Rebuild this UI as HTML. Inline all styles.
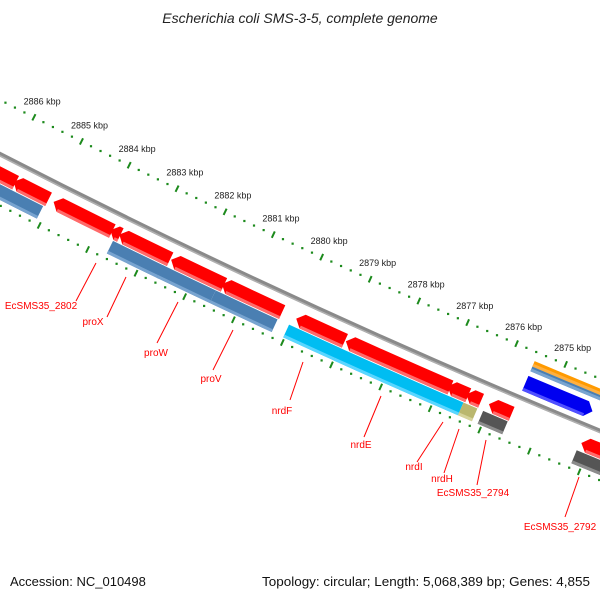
<!DOCTYPE html>
<html><head><meta charset="utf-8"><style>
html,body{margin:0;padding:0;background:#fff;}
svg{display:block;font-family:"Liberation Sans",sans-serif;}
</style></head><body>
<svg id="map" width="600" height="600" viewBox="0 0 600 600">
<rect width="600" height="600" fill="#fff"/>
<text x="300" y="23" text-anchor="middle" font-size="14" font-style="italic" fill="#222">Escherichia coli SMS-3-5, complete genome</text>
<g id="rings"></g>
<g id="tracks"></g>
<g id="labels" font-size="10" fill="#f00">
<line x1="96" y1="263" x2="76" y2="301" stroke="#f00"/>
<text x="41" y="309" text-anchor="middle">EcSMS35_2802</text>
<line x1="126" y1="277" x2="107" y2="317" stroke="#f00"/>
<text x="93" y="325" text-anchor="middle">proX</text>
<line x1="178" y1="302" x2="157" y2="343" stroke="#f00"/>
<text x="156" y="356" text-anchor="middle">proW</text>
<line x1="233" y1="330" x2="213" y2="370" stroke="#f00"/>
<text x="211" y="382" text-anchor="middle">proV</text>
<line x1="303" y1="362" x2="290" y2="400" stroke="#f00"/>
<text x="282" y="414" text-anchor="middle">nrdF</text>
<line x1="381" y1="396" x2="364" y2="437" stroke="#f00"/>
<text x="361" y="448" text-anchor="middle">nrdE</text>
<line x1="443" y1="422" x2="417" y2="462" stroke="#f00"/>
<text x="414" y="470" text-anchor="middle">nrdI</text>
<line x1="459" y1="429" x2="444" y2="473" stroke="#f00"/>
<text x="442" y="482" text-anchor="middle">nrdH</text>
<line x1="486" y1="440" x2="477" y2="485" stroke="#f00"/>
<text x="473" y="496" text-anchor="middle">EcSMS35_2794</text>
<line x1="579" y1="477" x2="565" y2="517" stroke="#f00"/>
<text x="560" y="530" text-anchor="middle">EcSMS35_2792</text>
</g>
<text x="10" y="586" font-size="13" fill="#111">Accession: NC_010498</text>
<text x="590" y="586" font-size="13" fill="#111" text-anchor="end" textLength="328" lengthAdjust="spacingAndGlyphs">Topology: circular; Length: 5,068,389 bp; Genes: 4,855</text>
</svg>
<script>
// ---- data (bp coordinates) ----
const forwardStarts = [2885750, 2885063, 2883739, 2883573, 2882543, 2881434, 2880239, 2878957, 2876810, 2876449, 2876190, 2875572, 2873700];
const forwardEnds   = [2886500, 2885791, 2884958, 2883779, 2883594, 2882522, 2881475, 2879951, 2878936, 2876868, 2876490, 2876030, 2874167];
const lowerStarts = [2885096, 2882576, 2881529, 2880260, 2878990, 2876478, 2876196, 2875584, 2873500];
const lowerEnds   = [2886500, 2883647, 2882617, 2881529, 2880025, 2879000, 2876478, 2876080, 2874195];
const lowerKinds  = ["steel", "steel", "steel", "steel", "cyan", "cyan", "khaki", "grey", "grey"];
const reverseStarts = [2874200];
const reverseEnds   = [2875560];
const orangeStarts = [2873300];
const orangeEnds   = [2875560];
const tickKbp = [2873, 2874, 2875, 2876, 2877, 2878, 2879, 2880, 2881, 2882, 2883, 2884, 2885, 2886];

// ---- geometry ----
const NS = "http://www.w3.org/2000/svg";
const CX = 3565, CY = -6786;
function ang(bp){ return (117.09 + (bp - 2886000) * 0.000394) * Math.PI / 180; }
function pt(r, a){ return [CX + r * Math.cos(a), CY + r * Math.sin(a)]; }
function f(p){ return p[0].toFixed(2) + " " + p[1].toFixed(2); }
function band(r1, r2, a1, a2, head){
  const h = 7 / ((r1 + r2) / 2), rm = (r1 + r2) / 2;
  let b1 = a1, b2 = a2;
  if (head === 1) b2 = Math.max(a1, a2 - h);
  if (head === -1) b1 = Math.min(a2, a1 + h);
  let d = "M" + f(pt(r1, b1)) + " A" + r1 + " " + r1 + " 0 0 1 " + f(pt(r1, b2));
  if (head === 1) d += " L" + f(pt(rm, a2));
  d += " L" + f(pt(r2, b2)) + " A" + r2 + " " + r2 + " 0 0 0 " + f(pt(r2, b1));
  if (head === -1) d += " L" + f(pt(rm, a1));
  return d + " Z";
}
function mk(tag, attrs, parent){
  const e = document.createElementNS(NS, tag);
  for (const k in attrs) e.setAttribute(k, attrs[k]);
  parent.appendChild(e);
  return e;
}
const rings = document.getElementById("rings");
const tracks = document.getElementById("tracks");
const GREEN = "#1c8a1c";

[7754, 7848].forEach(function(r){
  for (let bp = 2872800; bp <= 2887600; bp += 200) {
    const a = ang(bp);
    if (bp % 1000 === 0) {
      const p1 = pt(r - 3.5, a), p2 = pt(r + 3.5, a);
      const l = mk("line", {x1: p1[0], y1: p1[1], x2: p2[0], y2: p2[1], stroke: GREEN, "stroke-width": 2}, rings);
      
      
    } else {
      const p = pt(r, a);
      const d = mk("rect", {x: p[0] - 1.1, y: p[1] - 1.1, width: 2.2, height: 2.2, fill: GREEN}, rings);
      
      
    }
  }
});
tickKbp.forEach(function(k){
  const p = pt(7736, ang(k * 1000));
  const t = mk("text", {x: p[0], y: p[1] + 3, "text-anchor": "middle", "font-size": 9, fill: "#222"}, rings);
  t.textContent = k + " kbp";
  
  
});

(function(){
  const a1 = ang(2872000), a2 = ang(2888000);
  const p = mk("path", {d: band(7800, 7804.5, a1, a2, 0), fill: "#8a8a8a"}, tracks);
  
  
  const p2 = mk("path", {d: band(7803, 7804.5, a1, a2, 0), fill: "#b0b0b0"}, tracks);
  
  
})();

function feature(r1, r2, s, e, head, col, light, name){
  const a1 = ang(s), a2 = ang(e);
  const p = mk("path", {d: band(r1, r2, a1, a2, head), fill: col}, tracks);
  
  
  const h = 7 / r2;
  const b1 = head === -1 ? Math.min(a2, a1 + h) : a1;
  const b2 = head === 1 ? Math.max(a1, a2 - h) : a2;
  const q = mk("path", {d: band(r2 - 3, r2, b1, b2, 0), fill: light}, tracks);
  
  
}

forwardStarts.forEach(function(s, i){
  feature(7813, 7828, s, forwardEnds[i], 1, "#ff0000", "#ff6a6a", "forward-gene");
});
const kindCol = {steel: ["#4a7fb2", "#78a4d0"], cyan: ["#00bdf2", "#5ad6ff"], khaki: ["#bab76e", "#d6d39a"], grey: ["#555555", "#8c8c8c"]};
lowerStarts.forEach(function(s, i){
  const c = kindCol[lowerKinds[i]];
  feature(7829, 7843, s, lowerEnds[i], 0, c[0], c[1], "cog-feature-" + lowerKinds[i]);
});
reverseStarts.forEach(function(s){
  const i = reverseStarts.indexOf(s);
  feature(7779, 7795, s, reverseEnds[i], -1, "#0000f0", "#5050ff", "reverse-gene");
});
orangeStarts.forEach(function(s, i){
  feature(7763, 7769, s, orangeEnds[i], 0, "#ff9a00", "#ffb040", "orange-feature");
  feature(7769, 7774, s, orangeEnds[i], 0, "#4a7fb2", "#78a4d0", "steelblue-thin-feature");
});
</script>
</body></html>
